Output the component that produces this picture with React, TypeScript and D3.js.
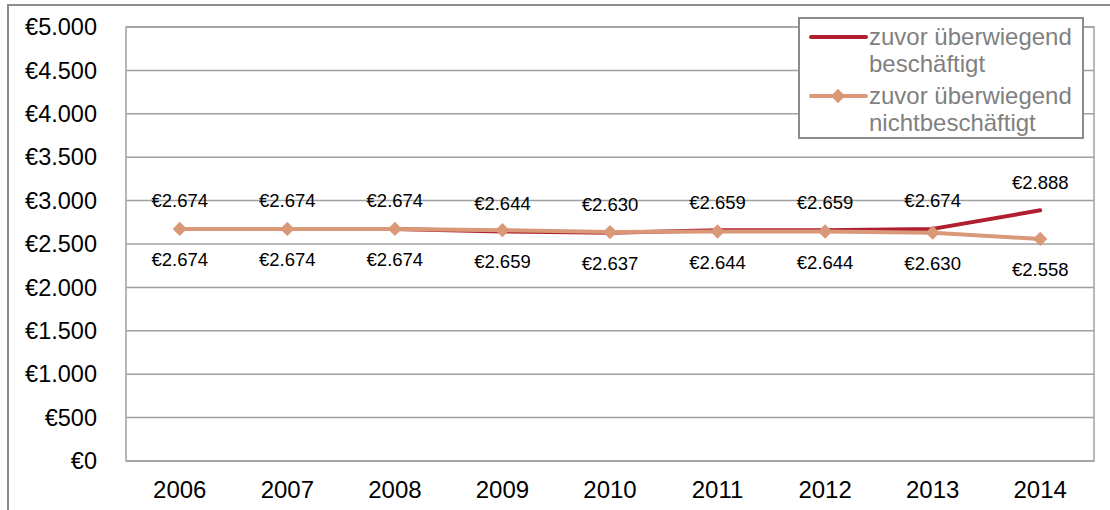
import React from "react";
import * as d3 from "d3";

const years = ["2006", "2007", "2008", "2009", "2010", "2011", "2012", "2013", "2014"];
const beschaeftigt = [2674, 2674, 2674, 2644, 2630, 2659, 2659, 2674, 2888];
const nichtBeschaeftigt = [2674, 2674, 2674, 2659, 2637, 2644, 2644, 2630, 2558];
const yTicks = [0, 500, 1000, 1500, 2000, 2500, 3000, 3500, 4000, 4500, 5000];
const legendLabels = [
  ["zuvor überwiegend", "beschäftigt"],
  ["zuvor überwiegend", "nichtbeschäftigt"],
];

const W = 1110;
const H = 510;
const left = 126;
const right = 1094;
const top = 27;
const bottom = 461;
const RED = "#B01E2F";
const ORANGE = "#D99877";
const FONT = "'Liberation Sans', Arial, sans-serif";

const fmt = (v: number) => {
  const s = d3.format(",")(v).replace(/,/g, ".");
  return "€" + s;
};

export default function App() {
  const x = d3.scaleBand().domain(years).range([left, right]);
  const y = d3.scaleLinear().domain([0, 5000]).range([bottom, top]);
  const cx = (yr: string) => (x(yr) as number) + x.bandwidth() / 2;
  const line = d3
    .line<number>()
    .x((_, i) => cx(years[i]))
    .y((d) => y(d));
  const diamond = d3.symbol().type(d3.symbolDiamond2).size(130)();

  return (
    <svg width={W} height={H} style={{ position: "absolute", left: 0, top: 0 }} fontFamily={FONT}>
      <rect x={0} y={0} width={W} height={H} fill="#fff" />
      <rect x={8} y={5} width={W + 20} height={H + 20} fill="none" stroke="#8c8c8c" strokeWidth={2} />
      {yTicks.map((t) => (
        <g key={t}>
          <line x1={left} x2={right} y1={y(t)} y2={y(t)} stroke="#a0a0a0" strokeWidth={1.5} />
          <text x={97} y={y(t)} dy="0.35em" textAnchor="end" fontSize={23.5} fill="#000">
            {fmt(t)}
          </text>
        </g>
      ))}
      <rect x={left} y={top} width={right - left} height={bottom - top} fill="none" stroke="#a0a0a0" strokeWidth={1.5} />
      {years.map((yr) => (
        <text key={yr} x={cx(yr)} y={490} dy="0.35em" textAnchor="middle" fontSize={24} fill="#000">
          {yr}
        </text>
      ))}
      <path d={line(beschaeftigt) || ""} fill="none" stroke={RED} strokeWidth={4} strokeLinejoin="round" strokeLinecap="round" />
      <path d={line(nichtBeschaeftigt) || ""} fill="none" stroke={ORANGE} strokeWidth={4} strokeLinejoin="round" />
      {nichtBeschaeftigt.map((v, i) => (
        <path key={i} d={diamond || ""} transform={`translate(${cx(years[i])},${y(v)})`} fill={ORANGE} />
      ))}
      {beschaeftigt.map((v, i) => (
        <text key={"a" + i} x={cx(years[i])} y={y(v) - 28} dy="0.35em" textAnchor="middle" fontSize={18.5} fill="#000">
          {fmt(v)}
        </text>
      ))}
      {nichtBeschaeftigt.map((v, i) => (
        <text key={"b" + i} x={cx(years[i])} y={y(v) + 31} dy="0.35em" textAnchor="middle" fontSize={18.5} fill="#000">
          {fmt(v)}
        </text>
      ))}
      <rect x={799} y={18} width={284} height={120} fill="#fff" stroke="#8c8c8c" strokeWidth={2} />
      {legendLabels.map((lines, i) => {
        const ly = 37 + i * 59;
        return (
          <g key={i}>
            <line x1={811} x2={866} y1={ly} y2={ly} stroke={i === 0 ? RED : ORANGE} strokeWidth={4} strokeLinecap="round" />
            {i === 1 && <path d={diamond || ""} transform={`translate(838,${ly})`} fill={ORANGE} />}
            {lines.map((l, j) => (
              <text key={j} x={869} y={ly + j * 27} dy="0.35em" fontSize={24} fill="#808080">
                {l}
              </text>
            ))}
          </g>
        );
      })}
    </svg>
  );
}
